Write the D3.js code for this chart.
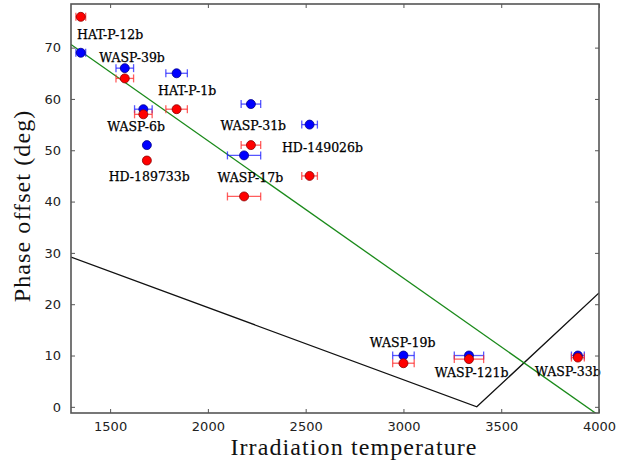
<!DOCTYPE html>
<html><head><meta charset="utf-8">
<script src="https://cdn.jsdelivr.net/npm/d3@7"></script>
<style>body{margin:0;background:#fff}svg{display:block}</style>
</head><body>
<svg id="c" width="634" height="463"></svg>
<script>
const planets = ["HAT-P-12b","WASP-39b","HAT-P-1b","WASP-6b","HD-189733b","WASP-31b","HD-149026b","WASP-17b","WASP-19b","WASP-121b","WASP-33b"];
const temps =   [1350, 1575, 1840, 1670, 1688, 2220, 2520, 2185, 3000, 3335, 3892];
const tempErr = [25, 45, 55, 45, 8, 50, 40, 85, 55, 75, 33];
const offsetBlue = [69, 66, 65, 58, 51, 59, 55, 49, 10, 10, 10];
const offsetRed =  [76, 64, 58, 57, 48, 51, 45, 41, 8.5, 9.3, 9.6];
const labelX = [1500, 1612, 1894, 1633, 1700, 2232, 2586, 2217, 2996, 3349, 3841];
const labelY = [72.6, 68.0, 61.6, 54.7, 44.8, 54.8, 50.6, 44.7, 12.5, 6.7, 6.8];
const modelT = [1300, 3375, 4000];
const modelOffset = [29.2, 0, 22.2];
const fitT = [1300, 4000];
const fitOffset = [70.6, -1.7];
const xTicks = [1500, 2000, 2500, 3000, 3500, 4000];
const yTicks = [0, 10, 20, 30, 40, 50, 60, 70];

const svg = d3.select("#c");
const L = 71, R = 599, T = 4, B = 413;
const x = d3.scaleLinear().domain([1300, 4000]).range([L, R]);
const y = d3.scaleLinear().domain([-1.2, 78.5]).range([B, T]);

svg.append("defs").append("clipPath").attr("id","clip")
  .append("rect").attr("x",L).attr("y",T).attr("width",R-L).attr("height",B-T);

const plot = svg.append("g").attr("clip-path","url(#clip)");
const line = d3.line().x(d=>x(d[0])).y(d=>y(d[1]));
plot.append("path").datum(modelT.map((t,i)=>[t, modelOffset[i]]))
  .attr("d", line).attr("fill","none").attr("stroke","#111").attr("stroke-width",1.3);
plot.append("path").datum(fitT.map((t,i)=>[t, fitOffset[i]]))
  .attr("d", line).attr("fill","none").attr("stroke","#1a8a1a").attr("stroke-width",1.3);

function series(vals, col, edge, ecol){
  const g = svg.append("g");
  planets.forEach((p,i)=>{
    const cx = x(temps[i]), cy = y(vals[i]);
    const x0 = x(temps[i]-tempErr[i]), x1 = x(temps[i]+tempErr[i]);
    g.append("line").attr("x1",x0).attr("x2",x1).attr("y1",cy).attr("y2",cy).attr("stroke",ecol).attr("stroke-width",1.3);
    [x0,x1].forEach(xx=>g.append("line").attr("x1",xx).attr("x2",xx).attr("y1",cy-4).attr("y2",cy+4).attr("stroke",ecol).attr("stroke-width",1.3));
    g.append("circle").attr("cx",cx).attr("cy",cy).attr("r",4.5).attr("fill",col).attr("stroke",edge).attr("stroke-width",0.8);
  });
}
series(offsetBlue, "#0000ff", "#00008b", "rgba(30,30,255,0.75)");
series(offsetRed, "#ff0000", "#8b0000", "rgba(255,40,40,0.75)");

svg.append("g").selectAll("text").data(planets).join("text")
  .attr("x",(d,i)=>x(labelX[i])).attr("y",(d,i)=>y(labelY[i]))
  .attr("text-anchor","middle").attr("dominant-baseline","central")
  .attr("font-family","DejaVu Serif").attr("font-size",12.5).attr("fill","#000")
  .attr("stroke","#000").attr("stroke-width",0.25)
  .text(d=>d);

// axes
const ax = "#555";
const xb = svg.append("g").attr("transform",`translate(0,${B})`)
  .call(d3.axisBottom(x).tickValues(xTicks).tickSize(-4).tickPadding(9).tickFormat(d3.format("d")));
const xt = svg.append("g").attr("transform",`translate(0,${T})`)
  .call(d3.axisTop(x).tickValues(xTicks).tickSize(-4).tickFormat(""));
const yl = svg.append("g").attr("transform",`translate(${L},0)`)
  .call(d3.axisLeft(y).tickValues(yTicks).tickSize(-4).tickPadding(10));
const yr = svg.append("g").attr("transform",`translate(${R},0)`)
  .call(d3.axisRight(y).tickValues(yTicks).tickSize(-4).tickFormat(""));
[xb,xt,yl,yr].forEach(g=>{
  g.select(".domain").remove();
  g.selectAll(".tick line").attr("stroke",ax).attr("stroke-width",1);
  g.selectAll(".tick text").attr("font-family","DejaVu Sans").attr("font-size",13).attr("fill","#222");
});
svg.append("rect").attr("x",L).attr("y",T).attr("width",R-L).attr("height",B-T)
  .attr("fill","none").attr("stroke",ax).attr("stroke-width",1.6);

svg.append("text").attr("x",354).attr("y",455).attr("text-anchor","middle")
  .attr("font-family","Liberation Serif").attr("font-size",24).attr("letter-spacing",1.1).attr("fill","#111")
  .text("Irradiation temperature");
svg.append("text").attr("transform",`translate(30,206) rotate(-90)`).attr("text-anchor","middle")
  .attr("font-family","Liberation Serif").attr("font-size",24).attr("letter-spacing",1.1).attr("fill","#111")
  .text("Phase offset (deg)");
</script>
</body></html>
